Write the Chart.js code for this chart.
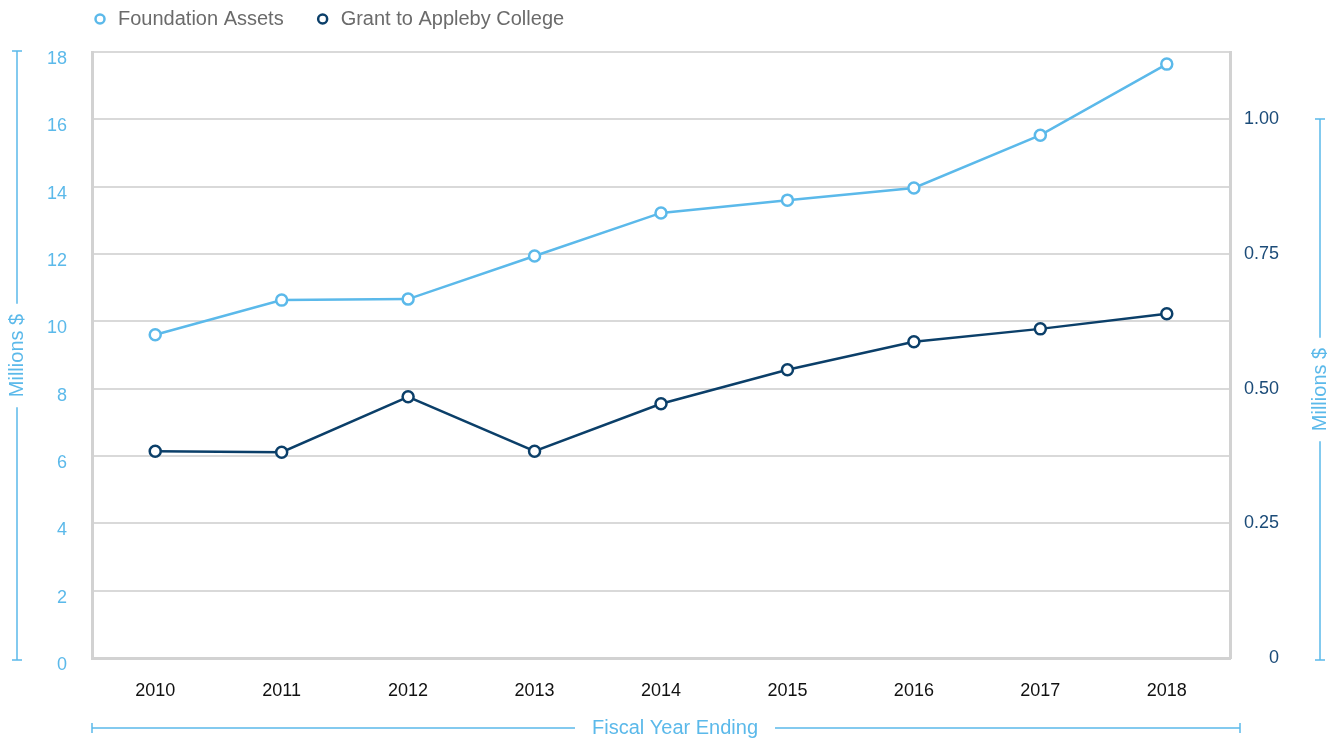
<!DOCTYPE html>
<html lang="en">
<head>
    <meta charset="UTF-8">
    <title>Foundation Assets and Grant to Appleby College</title>
    <script src="https://cdn.jsdelivr.net/npm/chart.js"></script>
    <style>
        * { margin: 0; padding: 0; box-sizing: border-box; }
        body { background: #fff; }
        .chart-wrap { width: 1327px; height: 738px; position: relative; }
    </style>
</head>
<body>
    <div class="chart-wrap"><canvas id="assetsChart"></canvas></div>

    <script>
        // data (millions $)
        const years = ['2010', '2011', '2012', '2013', '2014', '2015', '2016', '2017', '2018'];
        const foundationAssets = [9.6, 10.63, 10.66, 11.94, 13.22, 13.6, 13.96, 15.53, 17.64];
        const grantToCollege = [0.384, 0.382, 0.485, 0.384, 0.472, 0.535, 0.587, 0.611, 0.639];
        const leftTicks = [0, 2, 4, 6, 8, 10, 12, 14, 16, 18];
        const rightTicks = [0, 0.25, 0.5, 0.75, 1.0];

        const lightBlue = '#5bb9ea';
        const navy = '#0b3f69';
        const gridGrey = '#d9d9d9';
        const borderGrey = '#d2d2d2';
        const font = "'Liberation Sans', Arial, sans-serif";

        // legend + bracketed axis titles
        const decorPlugin = {
            id: 'decor',
            afterDraw(chart) {
                const ctx = chart.ctx;
                const area = chart.chartArea;
                ctx.save();

                // legend
                ctx.font = '20px ' + font;
                ctx.textBaseline = 'middle';
                ctx.textAlign = 'left';
                let x = 100;
                chart.data.datasets.forEach(ds => {
                    ctx.beginPath();
                    ctx.arc(x, 19, 4.5, 0, Math.PI * 2);
                    ctx.fillStyle = '#fff';
                    ctx.fill();
                    ctx.lineWidth = 2.5;
                    ctx.strokeStyle = ds.borderColor;
                    ctx.stroke();
                    ctx.fillStyle = '#6b6b6b';
                    ctx.fillText(ds.label, x + 18, 19);
                    x += 18 + ctx.measureText(ds.label).width + 39;
                });

                ctx.strokeStyle = lightBlue;
                ctx.fillStyle = lightBlue;
                ctx.lineWidth = 1.5;
                ctx.font = '20px ' + font;
                ctx.textAlign = 'center';
                ctx.textBaseline = 'middle';

                function vBracket(cx, y0, y1, text) {
                    const mid = (y0 + y1) / 2;
                    const half = ctx.measureText(text).width / 2 + 10;
                    ctx.beginPath();
                    ctx.moveTo(cx, y0); ctx.lineTo(cx, mid - half);
                    ctx.moveTo(cx, mid + half); ctx.lineTo(cx, y1);
                    ctx.moveTo(cx - 5, y0); ctx.lineTo(cx + 5, y0);
                    ctx.moveTo(cx - 5, y1); ctx.lineTo(cx + 5, y1);
                    ctx.stroke();
                    ctx.save();
                    ctx.translate(cx, mid);
                    ctx.rotate(-Math.PI / 2);
                    ctx.fillText(text, 0, 0);
                    ctx.restore();
                }

                vBracket(17, 51, 660, 'Millions $');
                vBracket(1320, 119, 660, 'Millions $');

                // bottom title
                const bx0 = area.left, bx1 = 1240, by = 728;
                const bmid = (bx0 + bx1) / 2 + 9;
                const bhalf = ctx.measureText('Fiscal Year Ending').width / 2 + 17;
                ctx.beginPath();
                ctx.moveTo(bx0, by); ctx.lineTo(bmid - bhalf, by);
                ctx.moveTo(bmid + bhalf, by); ctx.lineTo(bx1, by);
                ctx.moveTo(bx0, by - 5); ctx.lineTo(bx0, by + 5);
                ctx.moveTo(bx1, by - 5); ctx.lineTo(bx1, by + 5);
                ctx.stroke();
                ctx.fillText('Fiscal Year Ending', bmid, by);

                ctx.restore();
            }
        };

        const ctx = document.getElementById('assetsChart').getContext('2d');
        new Chart(ctx, {
            type: 'line',
            data: {
                labels: years,
                datasets: [{
                    label: 'Foundation Assets',
                    data: foundationAssets,
                    yAxisID: 'y',
                    borderColor: lightBlue,
                    backgroundColor: '#fff',
                    borderWidth: 2.5,
                    pointRadius: 5.5,
                    pointBorderWidth: 2.5,
                    pointBackgroundColor: '#fff',
                    tension: 0
                }, {
                    label: 'Grant to Appleby College',
                    data: grantToCollege,
                    yAxisID: 'y1',
                    borderColor: navy,
                    backgroundColor: '#fff',
                    borderWidth: 2.5,
                    pointRadius: 5.5,
                    pointBorderWidth: 2.5,
                    pointBackgroundColor: '#fff',
                    tension: 0
                }]
            },
            options: {
                responsive: true,
                maintainAspectRatio: false,
                animation: false,
                layout: { padding: { top: 52, left: 0, right: 48, bottom: 0 } },
                plugins: {
                    legend: { display: false },
                    tooltip: { enabled: false }
                },
                scales: {
                    x: {
                        offset: true,
                        grid: { display: false, drawTicks: false },
                        border: { display: true, color: borderGrey, width: 3 },
                        ticks: { color: '#111', padding: 22, font: { family: font, size: 18 } },
                        afterFit(scale) { scale.height = 80; }
                    },
                    y: {
                        position: 'left',
                        min: 0,
                        max: 18,
                        afterBuildTicks(scale) { scale.ticks = leftTicks.map(v => ({ value: v })); },
                        grid: { color: gridGrey, lineWidth: 2, drawTicks: false },
                        border: { display: true, color: borderGrey, width: 3 },
                        ticks: {
                            color: lightBlue,
                            padding: 25,
                            labelOffset: 7,
                            font: { family: font, size: 18 }
                        },
                        afterFit(scale) { scale.width = 92; }
                    },
                    y1: {
                        position: 'right',
                        min: 0,
                        max: 1.125,
                        afterBuildTicks(scale) { scale.ticks = rightTicks.map(v => ({ value: v })); },
                        grid: { display: false, drawTicks: false },
                        border: { display: true, color: borderGrey, width: 3 },
                        ticks: {
                            color: '#1b4b78',
                            crossAlign: 'far',
                            font: { family: font, size: 18 },
                            callback: v => v === 0 ? '0' : v.toFixed(2)
                        },
                        afterFit(scale) { scale.width = 49; }
                    }
                }
            },
            plugins: [decorPlugin]
        });
    </script>
</body>
</html>
